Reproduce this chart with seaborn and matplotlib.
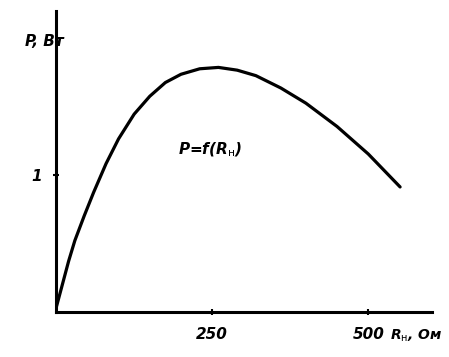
import pandas as pd
import matplotlib
matplotlib.use("Agg")
import matplotlib.pyplot as plt
import seaborn as sns

# Dados: potência P (Вт) em função da resistência de carga R (Ом)
r_carga = [0, 10, 20, 30, 45, 60, 80, 100, 125, 150, 175, 200, 230, 260,
           290, 320, 360, 400, 450, 500, 551]
potencia = [0.03, 0.20, 0.37, 0.52, 0.70, 0.87, 1.08, 1.26, 1.44, 1.57, 1.67, 1.73, 1.77, 1.78,
            1.76, 1.72, 1.63, 1.52, 1.35, 1.15, 0.91]

x_ticks = [250, 500]
x_tick_labels = ["250", "500"]
y_ticks = [1]
y_tick_labels = ["1"]

df = pd.DataFrame({"R": r_carga, "P": potencia})

sns.set_style("ticks")
plt.rcParams['font.family'] = ['DejaVu Sans']

fig = plt.figure(figsize=(4.49, 3.57), dpi=100)
ax = fig.add_axes([0.125, 0.126, 0.837, 0.843])

sns.lineplot(data=df, x="R", y="P", color="black", linewidth=2.3, ax=ax)

ax.set_xlim(0, 602)
ax.set_ylim(0, 2.19)
sns.despine(ax=ax)
for lado in ["left", "bottom"]:
    ax.spines[lado].set_linewidth(2.2)
    ax.spines[lado].set_color("black")

fonte = dict(fontsize=11, fontweight="bold", fontstyle="italic", color="black")
ax.set_xticks(x_ticks)
ax.set_xticklabels(x_tick_labels, **fonte)
ax.set_yticks(y_ticks)
ax.set_yticklabels(y_tick_labels, **fonte)
ax.tick_params(axis="both", direction="inout", length=5, width=1.5, colors="black", pad=8)
ax.set_xlabel("")
ax.set_ylabel("")

# Rótulos dos eixos e da curva
fig.text(0.055, 0.87, "P, Вт", **fonte)
fig.text(0.985, 0.05, "R$_{\\mathrm{н}}$, Ом", ha="right", fontsize=10, fontweight="bold",
         fontstyle="italic", color="black")
ax.text(247, 1.18, "P=f(R$_{\\mathrm{н}}$)", ha="center", va="center", **fonte)

fig.savefig("out.png", dpi=100)
